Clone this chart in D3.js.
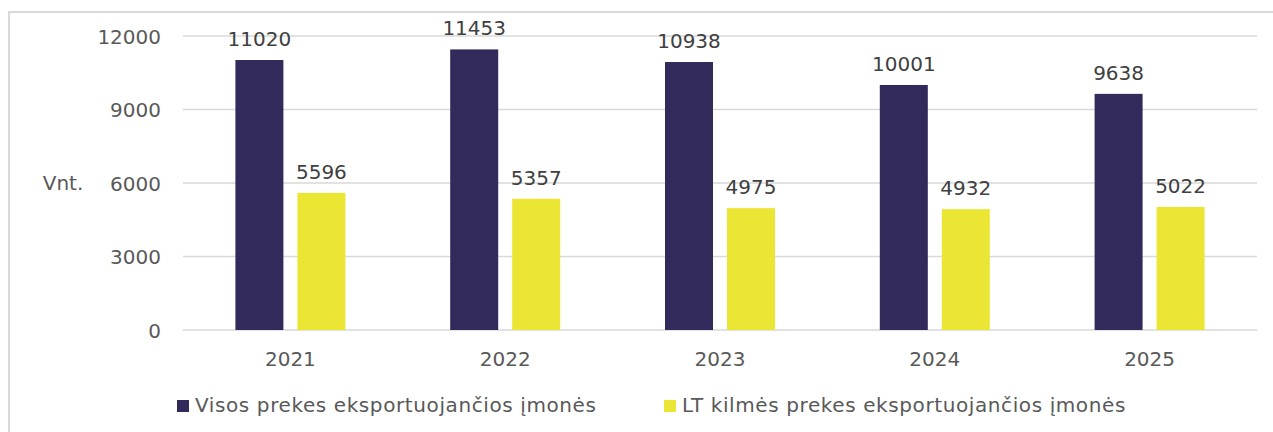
<!DOCTYPE html>
<html><head><meta charset="utf-8">
<script src="https://cdn.jsdelivr.net/npm/d3@7"></script>
<style>body{margin:0;background:#fff}svg{display:block}</style>
</head><body>
<svg id="c" width="1273" height="432"></svg>
<script>
const categories = ["2021","2022","2023","2024","2025"];
const seriesNames = ["Visos prekes eksportuojančios įmonės","LT kilmės prekes eksportuojančios įmonės"];
const visos = [11020,11453,10938,10001,9638];
const lt = [5596,5357,4975,4932,5022];
const yTicks = [0,3000,6000,9000,12000];
const colors = ["#312a5a","#ebe634"];
const font = "Verdana, 'DejaVu Sans', sans-serif";

const svg = d3.select("#c");
// frame
svg.append("path").attr("d","M9,440 V12 H1280").attr("fill","none").attr("stroke","#d9d9d9").attr("stroke-width",2);

const x0 = d3.scaleBand().domain(categories).range([183,1257]).paddingInner(0).paddingOuter(0);
const y = d3.scaleLinear().domain([0,12000]).range([330,36]);

// gridlines
svg.append("g").selectAll("line").data(yTicks).join("line")
  .attr("x1",183).attr("x2",1257).attr("y1",d=>y(d)).attr("y2",d=>y(d))
  .attr("stroke","#d9d9d9").attr("stroke-width",1.5);

// y axis labels
const yAxis = d3.axisLeft(y).tickValues(yTicks).tickSize(0).tickPadding(0).tickFormat(d=>String(d));
const ga = svg.append("g").attr("transform","translate(161,0)").call(yAxis);
ga.select(".domain").remove();
ga.selectAll("text").attr("font-family",font).attr("font-size",20).attr("fill","#595959").attr("dy","0.35em");

svg.append("text").attr("x",63).attr("y",y(6000)).attr("dy","0.35em").attr("text-anchor","middle")
  .attr("font-family",font).attr("font-size",20).attr("fill","#595959").text("Vnt.");

// x axis labels
const xAxis = d3.axisBottom(x0).tickSize(0).tickPadding(0);
const gx = svg.append("g").attr("transform","translate(0,352)").call(xAxis);
gx.select(".domain").remove();
gx.selectAll("text").attr("font-family",font).attr("font-size",20).attr("fill","#595959").attr("dy","0.72em");

// bars
const barW = 48, gap = 14;
const x1 = d3.scaleOrdinal().domain([0,1]).range([-(gap/2+barW), gap/2]);
const series = [visos, lt];
series.forEach((vals, si) => {
  const g = svg.append("g");
  g.selectAll("rect").data(vals).join("rect")
    .attr("x",(d,i)=>x0(categories[i]) + x0.bandwidth()/2 + x1(si))
    .attr("width",barW)
    .attr("y",d=>y(d)).attr("height",d=>y(0)-y(d))
    .attr("fill",colors[si]);
  g.selectAll("text").data(vals).join("text")
    .attr("x",(d,i)=>x0(categories[i]) + x0.bandwidth()/2 + x1(si) + barW/2)
    .attr("y",d=>y(d)-14)
    .attr("text-anchor","middle").attr("font-family",font).attr("font-size",20).attr("fill","#404040")
    .text(d=>d);
});

// legend
const legX = [177, 664];
seriesNames.forEach((n,i)=>{
  svg.append("rect").attr("x",legX[i]).attr("y",400).attr("width",12).attr("height",12).attr("fill",colors[i]);
  svg.append("text").attr("x",legX[i]+18).attr("y",412).attr("font-family",font).attr("font-size",20)
    .attr("letter-spacing",0.6).attr("fill","#595959").text(n);
});
</script>
</body></html>
